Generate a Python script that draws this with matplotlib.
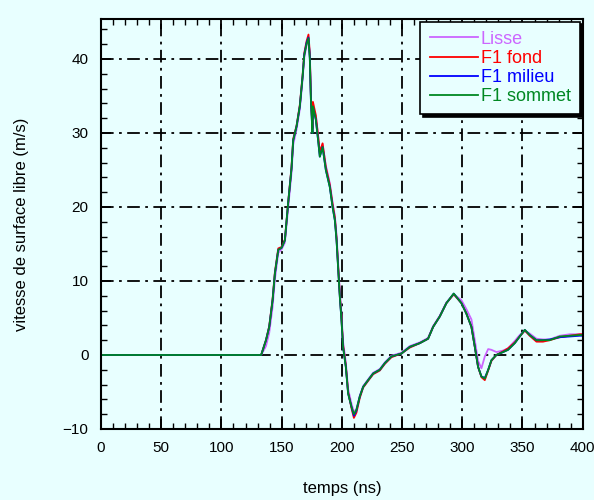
import matplotlib.pyplot as plt
from matplotlib.ticker import MultipleLocator

plt.rcParams['font.family'] = ['Liberation Sans Narrow', 'Liberation Sans', 'DejaVu Sans']

# temps (ns)
temps = [0, 133, 137, 139.7, 142.5, 144.4, 147.2, 150, 152.7, 155.4, 158.2, 159.6,
         162.4, 165.1, 167.4, 168.8, 170.7, 172.3, 173.4, 174.3, 175.6, 176, 178.4,
         180.3, 181.7, 184, 186.7, 190, 192.3, 194.2, 195.6, 197, 198.3, 199.7, 201,
         203.3, 205.2, 208, 210, 212.1, 214.9, 217.7, 221.8, 226, 231.5, 235.7, 241.2,
         249.5, 256.4, 264.7, 271.6, 275.8, 281.3, 286.8, 292.9, 299.3, 303.4, 307.6,
         310.4, 313.1, 315.9, 318.7, 321.5, 324.2, 328.3, 333.9, 338, 343.6, 347.7,
         351.9, 356, 361.6, 367, 372.6, 380.9, 389.2, 397.5, 400]

# vitesse (m/s)
lisse = [0, 0, 1.2, 3.0, 6.5, 10.2, 13.8, 14.3, 15.2, 19.8, 24.6, 28.4,
         30.5, 33.2, 37.2, 40.2, 41.8, 42.6, 40.5, 35.0, 30.8, 33.0, 32.3,
         29.6, 27.2, 28.5, 25.6, 23.2, 20.6, 18.8, 16.2, 12.2, 8.6, 5.4, 1.8,
         -1.0, -4.6, -6.6, -7.7, -7.3, -5.5, -4.2, -3.3, -2.4, -1.9, -1.0, -0.1,
         0.3, 1.2, 1.7, 2.3, 3.9, 5.3, 7.1, 8.2, 7.4, 6.2, 4.8,
         2.0, -0.8, -1.8, -0.2, 0.8, 0.7, 0.4, 0.6, 0.9, 1.9, 2.7,
         3.3, 2.9, 2.2, 2.1, 2.1, 2.6, 2.8, 2.8, 2.8]
f1_fond = [0, 0, 2.0, 3.9, 7.6, 11.2, 14.4, 14.6, 15.6, 20.6, 25.4, 29.2,
           31.0, 33.8, 37.8, 40.8, 42.4, 43.3, 40.8, 35.0, 30.6, 34.2, 32.4,
           29.6, 27.4, 28.6, 25.4, 23.0, 20.4, 18.6, 15.8, 11.8, 8.2, 5.0, 1.4,
           -1.4, -5.0, -7.2, -8.5, -7.8, -5.8, -4.4, -3.5, -2.6, -2.1, -1.2, -0.3,
           0.2, 1.0, 1.6, 2.2, 3.8, 5.2, 7.0, 8.2, 7.0, 5.6, 3.8,
           1.1, -1.6, -3.0, -3.4, -2.1, -0.8, 0.0, 0.5, 0.9, 1.7, 2.5,
           3.3, 2.6, 1.8, 1.8, 2.0, 2.4, 2.6, 2.8, 2.8]
f1_milieu = [0, 0, 2.0, 3.8, 7.4, 11.0, 14.2, 14.5, 15.5, 20.5, 25.2, 29.0,
             30.9, 33.6, 37.6, 40.6, 42.2, 42.9, 40.2, 34.5, 30.0, 33.5, 31.8,
             29.0, 26.8, 28.1, 25.0, 22.7, 20.0, 18.2, 15.5, 11.5, 7.9, 4.7, 1.1,
             -1.6, -5.2, -7.0, -8.2, -7.5, -5.6, -4.3, -3.4, -2.5, -2.0, -1.1, -0.2,
             0.2, 1.1, 1.6, 2.2, 3.8, 5.2, 7.0, 8.3, 7.0, 5.6, 3.8,
             1.1, -1.6, -2.9, -3.1, -2.0, -0.7, 0.0, 0.4, 0.7, 1.6, 2.5,
             3.4, 2.7, 2.0, 2.0, 2.1, 2.4, 2.5, 2.6, 2.6]
f1_sommet = [0, 0, 2.0, 3.8, 7.4, 11.0, 14.2, 14.5, 15.5, 20.5, 25.2, 29.0,
             30.9, 33.6, 37.6, 40.5, 42.0, 42.8, 40.0, 34.5, 30.0, 33.6, 31.8,
             29.0, 26.8, 28.1, 25.0, 22.7, 20.0, 18.2, 15.5, 11.5, 7.9, 4.7, 1.1,
             -1.6, -5.2, -7.0, -8.0, -7.4, -5.6, -4.3, -3.4, -2.5, -2.0, -1.1, -0.2,
             0.2, 1.1, 1.6, 2.2, 3.8, 5.2, 7.0, 8.3, 7.0, 5.6, 3.8,
             1.1, -1.6, -2.9, -3.2, -2.0, -0.7, 0.0, 0.4, 0.7, 1.6, 2.5,
             3.4, 2.7, 2.0, 2.0, 2.0, 2.5, 2.6, 2.7, 2.7]

bg = '#E8FFFF'
fig = plt.figure(figsize=(5.94, 5.0), dpi=100, facecolor=bg)
ax = fig.add_axes([0.170, 0.142, 0.811, 0.820], facecolor=bg)

ax.plot(temps, lisse, color='#CC66FF', lw=1.3, label='Lisse')
ax.plot(temps, f1_fond, color='#FF0000', lw=1.3, label='F1 fond')
ax.plot(temps, f1_milieu, color='#0000FF', lw=1.3, label='F1 milieu')
ax.plot(temps, f1_sommet, color='#008822', lw=1.3, label='F1 sommet')

ax.set_xlim(0, 400)
ax.set_ylim(-10, 45.4)
ax.xaxis.set_major_locator(MultipleLocator(50))
ax.xaxis.set_minor_locator(MultipleLocator(10))
ax.yaxis.set_major_locator(MultipleLocator(10))
ax.yaxis.set_minor_locator(MultipleLocator(2))
ax.tick_params(which='both', direction='in', top=True, right=True, color='black')
ax.tick_params(which='major', length=7, width=1.3, labelsize=11, pad=9)
ax.tick_params(which='minor', length=4, width=1.0)
ax.grid(True, which='major', color='black', lw=1.3, linestyle=(0, (7, 3, 1.5, 3)))
for s in ax.spines.values():
    s.set_linewidth(1.5)

ax.set_xlabel('temps (ns)', fontsize=12, labelpad=18)
ax.set_ylabel('vitesse de surface libre (m/s)', fontsize=12, labelpad=24)

leg = ax.legend(loc='upper right', fontsize=13, frameon=True, fancybox=False,
                shadow={'color': 'black', 'alpha': 1.0}, handlelength=2.7,
                handletextpad=0.15, labelspacing=0.12, borderpad=0.5,
                borderaxespad=0.15)
leg.get_frame().set_edgecolor('black')
leg.get_frame().set_linewidth(1.2)
leg.get_frame().set_facecolor(bg)
for line, text in zip(leg.get_lines(), leg.get_texts()):
    text.set_color(line.get_color())

fig.savefig('out.png', dpi=100, facecolor=bg)
